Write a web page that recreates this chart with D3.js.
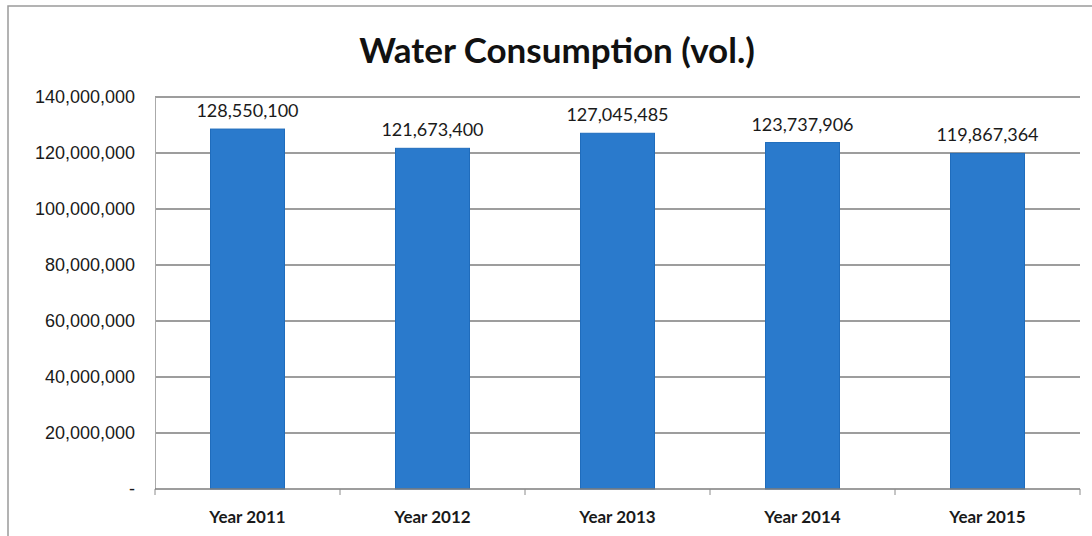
<!DOCTYPE html>
<html>
<head>
<meta charset="utf-8">
<script src="https://cdn.jsdelivr.net/npm/d3@7/dist/d3.min.js"></script>
<style>
  body { margin: 0; background: #fff; }
  svg { display: block; font-family: Lato, "Open Sans", sans-serif; }
</style>
</head>
<body>
<svg id="chart" width="1092" height="536"></svg>
<script>
// Chart data
const years = ['Year 2011', 'Year 2012', 'Year 2013', 'Year 2014', 'Year 2015'];
const consumption = [128550100, 121673400, 127045485, 123737906, 119867364];
const yTicks = [0, 20000000, 40000000, 60000000, 80000000, 100000000, 120000000, 140000000];

const svg = d3.select('#chart');
const margin = { left: 155, right: 12, top: 97, bottom: 47 };
const width = 1092, height = 536;

// Outer chart border
svg.append('rect')
    .attr('x', 8).attr('y', 6)
    .attr('width', 1100).attr('height', 560)
    .attr('fill', 'none')
    .attr('stroke', '#9a9a9a')
    .attr('stroke-width', 1.5);

// Title
svg.append('text')
    .attr('x', 557)
    .attr('y', 63)
    .attr('text-anchor', 'middle')
    .attr('font-size', 35)
    .attr('font-weight', 'bold')
    .attr('fill', '#111')
    .text('Water Consumption (vol.)');

const x = d3.scaleBand()
    .domain(years)
    .range([margin.left, width - margin.right])
    .paddingInner(0.6)
    .paddingOuter(0.3);

const y = d3.scaleLinear()
    .domain([0, 140000000])
    .range([height - margin.bottom, margin.top]);

// Gridlines
svg.append('g')
    .selectAll('line')
    .data(yTicks.filter(d => d > 0))
    .enter()
    .append('line')
    .attr('x1', margin.left)
    .attr('x2', width - margin.right)
    .attr('y1', d => y(d))
    .attr('y2', d => y(d))
    .attr('stroke', '#7c7c7c')
    .attr('stroke-width', 1.3);

// Y axis
const yAxis = svg.append('g')
    .attr('transform', `translate(${margin.left},0)`)
    .call(d3.axisLeft(y)
        .tickValues(yTicks)
        .tickSize(0)
        .tickPadding(20)
        .tickFormat(d => d === 0 ? '-' : d3.format(',')(d)));
yAxis.select('.domain').attr('stroke', '#aaa');
yAxis.selectAll('text')
    .attr('font-size', 18)
    .attr('fill', '#1a1a1a');

// Bars
svg.append('g')
    .selectAll('rect')
    .data(consumption)
    .enter()
    .append('rect')
    .attr('x', (d, i) => x(years[i]))
    .attr('y', d => y(d))
    .attr('width', x.bandwidth())
    .attr('height', d => y(0) - y(d))
    .attr('fill', '#2a7acc')
    .attr('stroke', '#1f6cbc')
    .attr('stroke-width', 1);

// Data labels
svg.append('g')
    .selectAll('text')
    .data(consumption)
    .enter()
    .append('text')
    .attr('x', (d, i) => x(years[i]) + x.bandwidth() / 2)
    .attr('y', d => y(d) - 12)
    .attr('text-anchor', 'middle')
    .attr('font-size', 18)
    .attr('fill', '#1a1a1a')
    .text(d => d3.format(',')(d));

// X axis with tick marks between categories
const step = x.step();
const xAxis = svg.append('g')
    .attr('transform', `translate(0,${y(0)})`);
xAxis.append('line')
    .attr('x1', margin.left)
    .attr('x2', width - margin.right)
    .attr('stroke', '#7c7c7c')
    .attr('stroke-width', 1.5);
xAxis.selectAll('.tick-mark')
    .data(d3.range(years.length + 1))
    .enter()
    .append('line')
    .attr('class', 'tick-mark')
    .attr('x1', i => margin.left + i * step)
    .attr('x2', i => margin.left + i * step)
    .attr('y1', 0)
    .attr('y2', 6)
    .attr('stroke', '#8c8c8c');
xAxis.selectAll('text')
    .data(years)
    .enter()
    .append('text')
    .attr('x', d => x(d) + x.bandwidth() / 2)
    .attr('y', 34)
    .attr('text-anchor', 'middle')
    .attr('font-size', 17)
    .attr('font-weight', 'bold')
    .attr('fill', '#1a1a1a')
    .text(d => d);
</script>
</body>
</html>
